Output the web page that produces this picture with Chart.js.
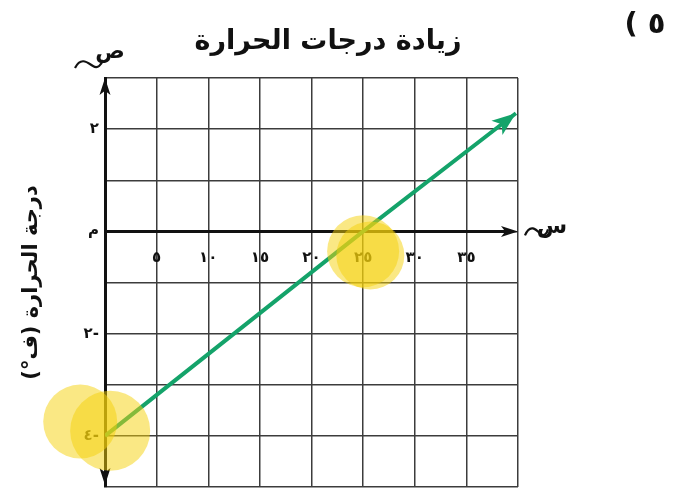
<!DOCTYPE html>
<html lang="ar">
<head>
<meta charset="utf-8">
<script src="https://cdn.jsdelivr.net/npm/chart.js@4.4.1/dist/chart.umd.min.js"></script>
<style>
  html, body { margin: 0; padding: 0; background: #fff; }
  #wrap { position: relative; width: 688px; height: 493px; }
</style>
</head>
<body>
<div id="wrap"><canvas id="tempChart"></canvas></div>
<script>
// data for the temperature line
const lineX = [0, 25, 39.8];
const lineY = [-4, 0, 2.31];

// highlighted spots (x, y, radius in px)
const spotX = [-2.4, 0.5, 25.0, 25.7];
const spotY = [-3.72, -3.9, -0.39, -0.47];
const spotR = [37, 40, 36, 34];

// tick labels
const xTickValues = [5, 10, 15, 20, 25, 30, 35];
const xTickLabels = ['٥', '١٠', '١٥', '٢٠', '٢٥', '٣٠', '٣٥'];
const yTickValues = [2, 0, -2, -4];
const yTickLabels = ['٢', 'م', '٢-', '٤-'];

const chartTitle = 'زيادة درجات الحرارة';
const yTitle = 'درجة الحرارة (ف°)';
const problemNo = '( ٥';

const GREEN = '#14a36a';
const FONT = "'DejaVu Sans', sans-serif";

const ctx = document.getElementById('tempChart').getContext('2d');

const arrow = (c, tipX, tipY, ang, len, half, color) => {
  c.save();
  c.translate(tipX, tipY);
  c.rotate(ang);
  c.beginPath();
  c.moveTo(0, 0);
  c.lineTo(-len, -half);
  c.lineTo(-len * 0.75, 0);
  c.lineTo(-len, half);
  c.closePath();
  c.fillStyle = color;
  c.fill();
  c.restore();
};

// x axis through y = 0 with its labels, plus the axis arrows (under the datasets)
const axes = {
  id: 'axes',
  beforeDatasetsDraw(chart) {
    const c = chart.ctx;
    const { x, y } = chart.scales;
    const x0 = x.getPixelForValue(0);
    const y0 = y.getPixelForValue(0);
    const a = chart.chartArea;

    c.save();
    c.strokeStyle = '#111';
    c.lineWidth = 3;
    c.beginPath();
    c.moveTo(a.left, y0);
    c.lineTo(a.right - 8, y0);
    c.stroke();

    c.fillStyle = '#111';
    c.font = 'bold 15px ' + FONT;
    c.textAlign = 'center';
    c.textBaseline = 'middle';
    xTickValues.forEach((v, i) => {
      c.fillText(xTickLabels[i], x.getPixelForValue(v), y0 + 27);
    });
    c.restore();

    arrow(c, x0, a.top, -Math.PI / 2, 17, 5.5, '#111');
    arrow(c, x0, a.bottom - 2, Math.PI / 2, 17, 5.5, '#111');
    arrow(c, a.right, y0, 0, 17, 5.5, '#111');
  }
};

// arrow head on the end of the green line + the texts around the grid
const extras = {
  id: 'extras',
  afterDatasetsDraw(chart) {
    const c = chart.ctx;
    const { x, y } = chart.scales;
    const n = lineX.length;
    const px1 = x.getPixelForValue(lineX[n - 2]), py1 = y.getPixelForValue(lineY[n - 2]);
    const px2 = x.getPixelForValue(lineX[n - 1]), py2 = y.getPixelForValue(lineY[n - 1]);
    arrow(c, px2, py2, Math.atan2(py2 - py1, px2 - px1), 24, 9, GREEN);
  },
  afterDraw(chart) {
    const c = chart.ctx;
    const a = chart.chartArea;
    const y0 = chart.scales.y.getPixelForValue(0);
    c.save();
    c.fillStyle = '#111';
    c.textBaseline = 'middle';

    c.direction = 'rtl';
    c.textAlign = 'center';
    c.font = 'bold 27px ' + FONT;
    c.fillText(chartTitle, 328, 42);

    c.direction = 'ltr';
    c.font = 'bold 29px ' + FONT;
    c.fillText(problemNo, 645, 25);

    // y axis title, rotated
    c.save();
    c.translate(32, (a.top + a.bottom) / 2);
    c.rotate(-Math.PI / 2);
    c.direction = 'rtl';
    c.font = 'bold 21px ' + FONT;
    c.fillText(yTitle, 0, 0);
    c.restore();

    // axis letters with their little swash
    c.font = 'bold 22px ' + FONT;
    c.fillText('ص', 110, 52);
    c.fillText('س', 552, y0 - 4);
    c.strokeStyle = '#111';
    c.lineWidth = 2.2;
    c.beginPath();
    c.moveTo(75, 68);
    c.bezierCurveTo(81, 56, 88, 63, 93, 66);
    c.bezierCurveTo(98, 69, 101, 65, 103, 60);
    c.stroke();
    c.beginPath();
    c.moveTo(525, y0 + 4);
    c.bezierCurveTo(530, y0 - 8, 536, y0 - 2, 540, y0 + 2);
    c.bezierCurveTo(544, y0 + 6, 547, y0 + 2, 548, y0 - 2);
    c.stroke();
    c.restore();
  }
};

new Chart(ctx, {
  type: 'line',
  data: {
    datasets: [
      {
        type: 'bubble',
        data: spotX.map((v, i) => ({ x: v, y: spotY[i], r: spotR[i] })),
        backgroundColor: 'rgba(246, 210, 10, 0.5)',
        borderWidth: 0,
        clip: false,
        order: 1
      },
      {
        data: lineX.map((v, i) => ({ x: v, y: lineY[i] })),
        borderColor: GREEN,
        borderWidth: 4,
        pointRadius: 0,
        tension: 0,
        order: 2
      }
    ]
  },
  plugins: [axes, extras],
  options: {
    responsive: true,
    maintainAspectRatio: false,
    animation: false,
    events: [],
    // bubbles would otherwise push the grid in by their radius
    layout: { autoPadding: false, padding: { left: 65, right: 170, top: 78, bottom: 6 } },
    plugins: { legend: { display: false }, tooltip: { enabled: false } },
    scales: {
      x: {
        type: 'linear',
        position: 'bottom',
        min: 0,
        max: 40,
        afterFit: s => { s.height = 0; },
        ticks: { stepSize: 5, display: false },
        grid: { color: '#3c3c3c', lineWidth: 1.5, drawTicks: false },
        border: { display: false }
      },
      y: {
        type: 'linear',
        min: -5,
        max: 3,
        afterFit: s => {
          s.width = 40;
          s.paddingTop = 0;
          s.paddingBottom = 0;
        },
        ticks: {
          stepSize: 1,
          padding: 6,
          color: '#111',
          font: { family: FONT, size: 15, weight: 'bold' },
          callback: v => {
            const i = yTickValues.indexOf(v);
            return i < 0 ? '' : yTickLabels[i];
          }
        },
        grid: { color: '#3c3c3c', lineWidth: 1.5, drawTicks: false },
        border: { display: true, color: '#111', width: 3 }
      }
    }
  }
});
</script>
</body>
</html>
